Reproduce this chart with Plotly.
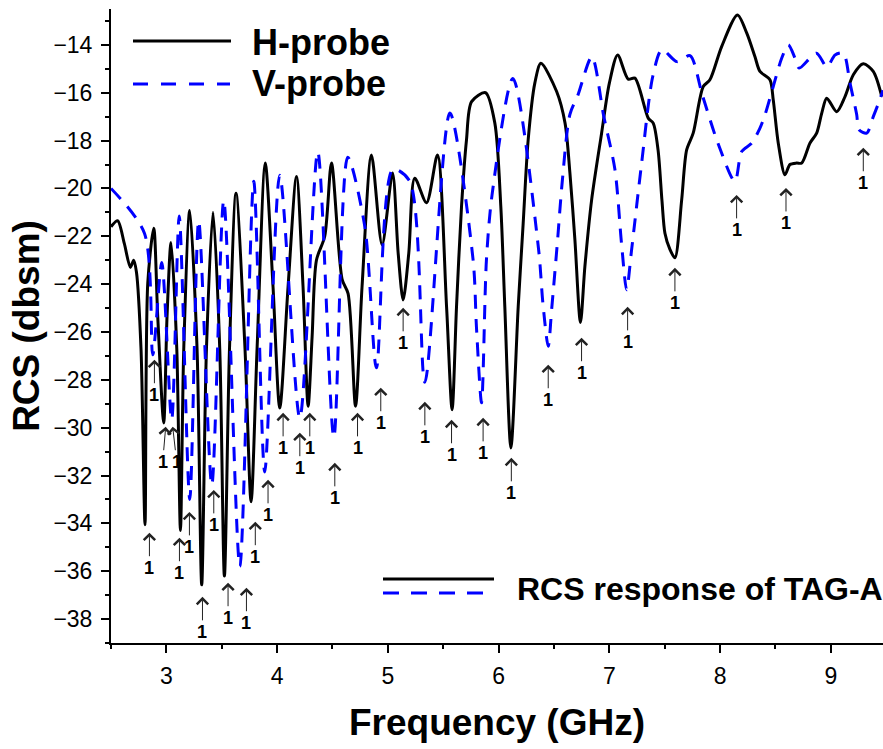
import plotly.graph_objects as go

# ---------------- data ----------------
H_FREQ = [2.500, 2.560, 2.620, 2.675, 2.705, 2.730, 2.771, 2.807, 2.832, 2.886,
          2.922, 2.976, 3.006, 3.042, 3.094, 3.127, 3.157, 3.211, 3.277, 3.319,
          3.362, 3.421, 3.482, 3.524, 3.570, 3.629, 3.710, 3.765, 3.819, 3.893,
          3.963, 4.024, 4.099, 4.175, 4.234, 4.280, 4.316, 4.355, 4.430, 4.491,
          4.587, 4.641, 4.708, 4.767, 4.852, 4.948, 5.042, 5.093, 5.138, 5.189,
          5.243, 5.349, 5.448, 5.530, 5.580, 5.620, 5.665, 5.710, 5.756, 5.882,
          5.966, 6.020, 6.056, 6.111, 6.177, 6.222, 6.267, 6.327, 6.382, 6.524,
          6.600, 6.644, 6.689, 6.739, 6.779, 6.840, 6.930, 7.000, 7.075, 7.170,
          7.231, 7.351, 7.396, 7.440, 7.475, 7.502, 7.547, 7.592, 7.653, 7.698,
          7.757, 7.848, 7.908, 8.014, 8.157, 8.240, 8.315, 8.360, 8.450, 8.480,
          8.525, 8.586, 8.631, 8.691, 8.737, 8.812, 8.872, 8.918, 8.963, 9.053,
          9.128, 9.203, 9.293, 9.383, 9.460]
H_RCS = [-21.60, -21.35, -22.30, -23.30, -23.00, -23.50, -26.70, -34.06, -23.96, -21.66,
         -25.35, -29.80, -25.35, -22.26, -26.70, -34.30, -26.70, -20.92, -26.70, -36.57,
         -26.70, -21.00, -26.70, -36.20, -26.70, -20.20, -26.70, -33.10, -26.70, -18.94,
         -24.10, -29.18, -24.10, -19.50, -24.10, -29.10, -26.20, -23.00, -22.00, -18.94,
         -23.80, -24.40, -29.10, -24.10, -18.60, -22.36, -19.36, -22.70, -24.66, -22.70,
         -19.57, -20.60, -18.60, -24.94, -29.25, -24.94, -20.76, -17.97, -16.37, -16.00,
         -17.27, -20.76, -24.94, -30.85, -24.94, -21.45, -17.97, -15.60, -14.77, -15.95,
         -17.27, -19.36, -22.15, -25.60, -23.27, -20.48, -17.69, -15.60, -14.42, -15.43,
         -15.39, -17.06, -17.27, -18.40, -20.50, -21.87, -22.55, -22.90, -20.48, -18.39,
         -17.69, -15.74, -15.46, -14.07, -12.75, -13.50, -14.50, -15.11, -15.46, -16.30,
         -18.10, -19.43, -19.00, -18.94, -18.94, -18.10, -17.69, -16.85, -16.23, -16.79,
         -16.16, -15.25, -14.79, -15.11, -16.16]

V_FREQ = [2.500, 2.802, 2.877, 2.958, 3.048, 3.116, 3.211, 3.292, 3.410, 3.518,
          3.663, 3.789, 3.888, 4.024, 4.205, 4.367, 4.512, 4.638, 4.792, 4.897,
          5.045, 5.198, 5.334, 5.560, 5.770, 5.800, 5.846, 5.890, 5.940, 6.129,
          6.360, 6.400, 6.448, 6.480, 6.530, 6.575, 6.644, 6.716, 6.842, 6.950,
          7.050, 7.110, 7.156, 7.200, 7.290, 7.393, 7.475, 7.610, 7.728, 7.840,
          7.980, 8.134, 8.195, 8.285, 8.360, 8.405, 8.480, 8.556, 8.616, 8.676,
          8.715, 8.870, 8.965, 9.038, 9.113, 9.173, 9.233, 9.255, 9.324, 9.384,
          9.430, 9.471]
V_RCS = [-20.00, -21.87, -26.95, -23.10, -29.67, -21.15, -33.00, -21.35, -32.40, -20.50,
         -35.80, -19.70, -31.85, -19.45, -29.60, -18.47, -30.40, -18.70, -21.60, -27.50,
         -19.20, -19.70, -28.10, -16.85, -23.00, -25.80, -28.96, -23.00, -20.30, -15.40,
         -22.50, -24.80, -26.60, -25.00, -22.30, -19.70, -16.90, -16.10, -14.50, -17.00,
         -19.20, -22.30, -24.24, -22.60, -19.00, -15.30, -14.20, -14.70, -14.45, -16.10,
         -18.10, -19.71, -18.46, -18.11, -17.48, -16.93, -15.74, -14.56, -14.00, -14.55,
         -14.97, -14.35, -14.92, -14.42, -14.35, -15.60, -16.90, -17.55, -17.69, -16.99,
         -16.44, -15.90]

# arrow tips of the "1" markers (frequency, RCS)
MARK_FREQ = [2.892, 2.994, 3.057, 2.847, 3.118, 3.208, 3.326, 3.428, 3.557, 3.723,
             3.803, 3.918, 4.054, 4.205, 4.295, 4.521, 4.726, 4.936, 5.138, 5.334,
             5.575, 5.860, 6.115, 6.448, 6.749, 7.165, 7.592, 8.149, 8.595, 9.293]
MARK_RCS = [-27.16, -29.96, -29.96, -34.39, -34.60, -33.52, -37.07, -32.60, -36.48, -36.69,
            -33.93, -32.18, -29.38, -30.21, -29.38, -31.47, -29.38, -28.33, -24.99, -28.92,
            -29.67, -29.59, -31.26, -27.37, -26.24, -24.95, -23.32, -20.27, -19.98, -18.30]
MARK_TEXT = "1"

X_TICKS = [3, 4, 5, 6, 7, 8, 9]
Y_TICKS = [-38, -36, -34, -32, -30, -28, -26, -24, -22, -20, -18, -16, -14]
X_RANGE = [2.5, 9.471]
Y_RANGE = [-39.0, -12.5]

SERIES_NAMES = ["H-probe", "V-probe"]
BOX_LABEL = "RCS response of TAG-A"
X_TITLE = "Frequency (GHz)"
Y_TITLE = "RCS (dbsm)"

# ---------------- figure ----------------
FONT = "Liberation Sans, Arial, sans-serif"
W, H = 883, 749
ML, MR, MT, MB = 111, 0, 9, 106
PW, PH = W - ML - MR, H - MT - MB


def px(x):
    return (x - ML) / PW


def py(y):
    return (H - MB - y) / PH


fig = go.Figure()
fig.add_trace(go.Scatter(x=H_FREQ, y=H_RCS, mode="lines", name=SERIES_NAMES[0],
                         line=dict(color="black", width=3, shape="spline", smoothing=0.8),
                         showlegend=False))
fig.add_trace(go.Scatter(x=V_FREQ, y=V_RCS, mode="lines", name=SERIES_NAMES[1],
                         line=dict(color="#0000FF", width=3, dash="14px,10px",
                                   shape="spline", smoothing=0.8),
                         showlegend=False))

annotations = []
for i, (fx, fy) in enumerate(zip(MARK_FREQ, MARK_RCS)):
    # the two markers near 3 GHz sit almost on top of each other: spread their labels
    dx = -3 if i == 1 else (4 if i == 2 else 0)
    annotations.append(dict(x=fx, y=fy, xref="x", yref="y", text="<b>%s</b>" % MARK_TEXT,
                            showarrow=True, arrowhead=4, arrowsize=2.2, arrowwidth=1,
                            arrowcolor="#222222", ax=dx, ay=35,
                            font=dict(family=FONT, size=18, color="black")))

# legend blocks drawn as decorations
shapes = [
    dict(type="line", xref="paper", yref="paper", x0=px(133), x1=px(231), y0=py(41), y1=py(41),
         line=dict(color="black", width=3)),
    dict(type="line", xref="paper", yref="paper", x0=px(133), x1=px(230), y0=py(84), y1=py(84),
         line=dict(color="#0000FF", width=3, dash="15px,13px")),
    dict(type="line", xref="paper", yref="paper", x0=px(383), x1=px(494), y0=py(579), y1=py(579),
         line=dict(color="black", width=3)),
    dict(type="line", xref="paper", yref="paper", x0=px(383), x1=px(494), y0=py(593), y1=py(593),
         line=dict(color="#0000FF", width=3, dash="16px,12px")),
]
annotations += [
    dict(x=px(250), y=py(42), xref="paper", yref="paper", xanchor="left", yanchor="middle",
         text="<b>%s</b>" % SERIES_NAMES[0], showarrow=False,
         font=dict(family=FONT, size=36, color="black")),
    dict(x=px(250), y=py(83), xref="paper", yref="paper", xanchor="left", yanchor="middle",
         text="<b>%s</b>" % SERIES_NAMES[1], showarrow=False,
         font=dict(family=FONT, size=36, color="black")),
    dict(x=px(515), y=py(589), xref="paper", yref="paper", xanchor="left", yanchor="middle",
         text="<b>%s</b>" % BOX_LABEL, showarrow=False,
         font=dict(family=FONT, size=32, color="black")),
]

axis_common = dict(showline=True, linewidth=2, linecolor="black", ticks="outside",
                   ticklen=8, tickwidth=2, tickcolor="black", showgrid=False,
                   zeroline=False, tickfont=dict(family=FONT, size=23, color="black"))

fig.update_layout(
    width=W, height=H,
    margin=dict(l=ML, r=MR, t=MT, b=MB),
    paper_bgcolor="white", plot_bgcolor="white",
    font=dict(family=FONT, color="black"),
    showlegend=False,
    shapes=shapes,
    annotations=annotations,
    xaxis=dict(range=X_RANGE, tickvals=X_TICKS, ticklabelstandoff=3,
               minor=dict(dtick=0.5, tick0=2.5, ticklen=4, tickwidth=2, tickcolor="black",
                          ticks="outside", showgrid=False),
               title=dict(text="<b>%s</b>" % X_TITLE, standoff=22,
                          font=dict(family=FONT, size=37, color="black")),
               **axis_common),
    yaxis=dict(range=Y_RANGE, tickvals=Y_TICKS, ticklabelstandoff=4,
               minor=dict(dtick=1, tick0=-39, ticklen=4, tickwidth=2, tickcolor="black",
                          ticks="outside", showgrid=False),
               title=dict(text="<b>%s</b>" % Y_TITLE, standoff=2,
                          font=dict(family=FONT, size=37, color="black")),
               **axis_common),
)

fig.write_html("out.html")
